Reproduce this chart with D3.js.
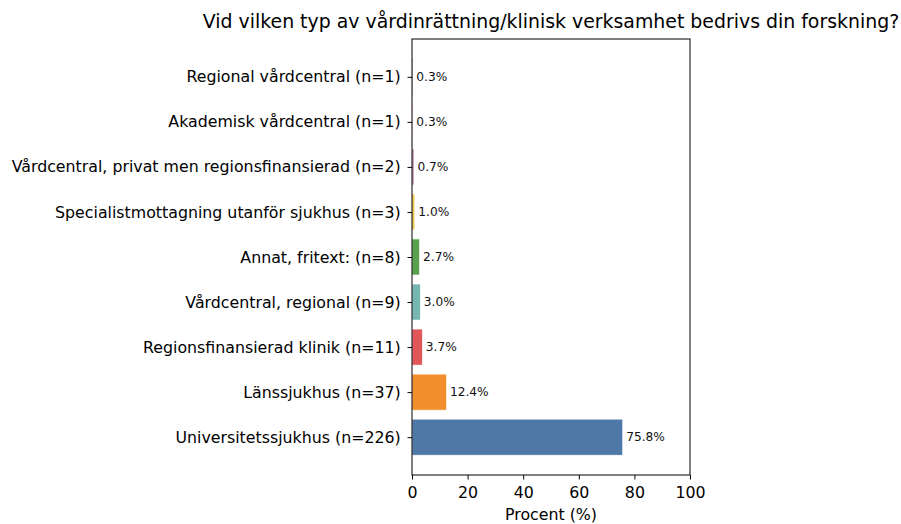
<!DOCTYPE html>
<html>
<head>
<meta charset="utf-8">
<script src="https://cdn.jsdelivr.net/npm/d3@7"></script>
<style>
  body { margin: 0; background: #fff; }
  svg { font-family: "DejaVu Sans", sans-serif; }
</style>
</head>
<body>
<div id="chart"></div>
<script>
// data, top to bottom as shown
const categories = [
    "Regional vårdcentral (n=1)",
    "Akademisk vårdcentral (n=1)",
    "Vårdcentral, privat men regionsfinansierad (n=2)",
    "Specialistmottagning utanför sjukhus (n=3)",
    "Annat, fritext: (n=8)",
    "Vårdcentral, regional (n=9)",
    "Regionsfinansierad klinik (n=11)",
    "Länssjukhus (n=37)",
    "Universitetssjukhus (n=226)"
];
const percents = [0.3, 0.3, 0.7, 1.0, 2.7, 3.0, 3.7, 12.4, 75.8];
const colors = ["#9c755f", "#ff9da7", "#b07aa1", "#edc948", "#59a14f", "#76b7b2", "#e15759", "#f28e2b", "#4e79a7"];
const xTicks = [0, 20, 40, 60, 80, 100];

const width = 901, height = 524;
const margin = {top: 39, right: 211, bottom: 49, left: 412};

const svg = d3.select("#chart")
    .append("svg")
    .attr("width", width)
    .attr("height", height);

const x = d3.scaleLinear()
    .domain([0, 100])
    .range([margin.left, width - margin.right]);

// matplotlib-like band: 5% margin around bars
const n = categories.length;
const y = d3.scaleLinear()
    .domain([-0.5 - 0.44 + 0.1, n - 0.5 + 0.44 - 0.1])
    .range([margin.top, height - margin.bottom]);
const barH = y(0.4) - y(-0.4);

// bars
svg.append("g")
    .selectAll("rect")
    .data(percents)
    .join("rect")
    .attr("x", x(0))
    .attr("y", (d, i) => y(i) - barH / 2)
    .attr("width", d => x(d) - x(0))
    .attr("height", barH)
    .attr("fill", (d, i) => colors[i])
    .attr("stroke", "#fff")
    .attr("stroke-width", 0.6);

// value labels
svg.append("g")
    .selectAll("text")
    .data(percents)
    .join("text")
    .attr("x", d => x(d) + 3.5)
    .attr("y", (d, i) => y(i))
    .attr("dy", "0.35em")
    .attr("font-size", 12.2)
    .attr("fill", "#111")
    .text(d => d.toFixed(1) + "%");

// frame
svg.append("rect")
    .attr("x", margin.left)
    .attr("y", margin.top)
    .attr("width", width - margin.right - margin.left)
    .attr("height", height - margin.bottom - margin.top)
    .attr("fill", "none")
    .attr("stroke", "#000")
    .attr("stroke-width", 1);

// x axis
const xAxis = svg.append("g")
    .attr("transform", `translate(0,${height - margin.bottom})`)
    .call(d3.axisBottom(x).tickValues(xTicks).tickSize(4.5).tickPadding(7.3).tickFormat(d3.format("d")));
xAxis.select(".domain").remove();
xAxis.selectAll("text").attr("font-size", 15.8).attr("fill", "#000").attr("font-family", "DejaVu Sans");
xAxis.selectAll("line").attr("stroke", "#000").attr("stroke-width", 1);

// y axis
const yAxis = svg.append("g")
    .attr("transform", `translate(${margin.left},0)`)
    .call(d3.axisLeft(y).tickValues(d3.range(n)).tickSize(4.5).tickPadding(6.8).tickFormat(i => categories[i]));
yAxis.select(".domain").remove();
yAxis.selectAll("text").attr("font-size", 15.8).attr("fill", "#000").attr("font-family", "DejaVu Sans");
yAxis.selectAll("line").attr("stroke", "#000").attr("stroke-width", 1);

// x label
svg.append("text")
    .attr("x", (margin.left + width - margin.right) / 2)
    .attr("y", 520)
    .attr("text-anchor", "middle")
    .attr("font-size", 15.8)
    .text("Procent (%)");

// title
svg.append("text")
    .attr("x", (margin.left + width - margin.right) / 2)
    .attr("y", 28)
    .attr("text-anchor", "middle")
    .attr("font-size", 18.9)
    .text("Vid vilken typ av vårdinrättning/klinisk verksamhet bedrivs din forskning?");
</script>
</body>
</html>
